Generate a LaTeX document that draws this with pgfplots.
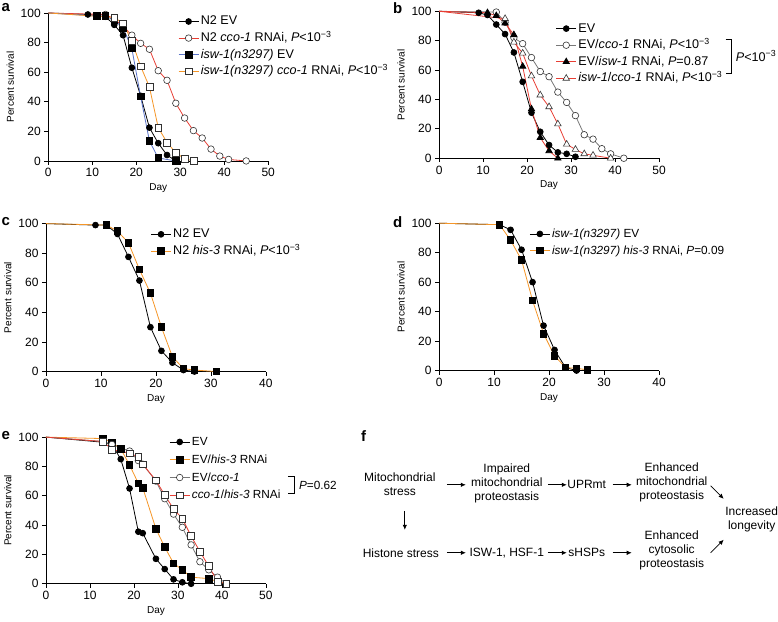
\documentclass[border=0pt]{standalone}
\usepackage{fontspec}
\setmainfont{Liberation Sans}
\usepackage{pgfplots}
\pgfplotsset{compat=1.18}
\usetikzlibrary{arrows.meta}

\definecolor{cred}{RGB}{232,62,52}
\definecolor{corange}{RGB}{245,150,40}
\definecolor{cblue}{RGB}{90,115,200}
\definecolor{cgray}{RGB}{120,120,120}
\definecolor{cedge}{RGB}{50,50,50}

\newcommand{\fs}{\fontsize{12}{14}\selectfont}
\newcommand{\fl}{\fontsize{12.6}{15}\selectfont}
\newcommand{\fm}{\fontsize{11.8}{14}\selectfont}
\newcommand{\ff}{\fontsize{12}{14}\selectfont}
\newcommand{\mexp}{10\textsuperscript{−3}}

\pgfplotsset{
  surv/.style={
    scale only axis, width=220pt, height=148pt,
    anchor=south west,
    axis lines=left, axis line style={-, line width=0.7pt},
    xmin=0, ymin=0, ymax=100,
    xtick={0,10,...,50}, ytick={0,20,...,100},
    tick align=outside, major tick length=4pt,
    tick style={black, line width=0.7pt},
    /pgf/number format/assume math mode=true,
    tick label style={font=\fs},
    label style={font=\fs},
    every axis y label/.style={at={(ticklabel cs:0.5)}, rotate=90, anchor=near ticklabel},
    every axis x label/.style={at={(ticklabel cs:0.5)}, anchor=near ticklabel},
    xlabel={Day}, ylabel={Percent survival},
    legend cell align=left,
    legend style={draw=none, fill=none, font=\fl, anchor=north west,
      inner sep=0pt, row sep=0pt,
      nodes={text height=10pt, text depth=3pt, inner sep=1.8pt}},
    legend image code/.code={\draw[mark repeat=2, mark phase=2]
      plot coordinates {(0pt,0pt) (10pt,0pt) (20pt,0pt)};},
    every axis plot/.append style={line width=0.8pt, mark repeat=1, mark phase=2},
    clip=false,
  },
  fcirc/.style={mark=*, mark size=2.9pt, mark options={solid, fill=black, draw=black}},
  ocirc/.style={mark=*, mark size=3.3pt, mark options={solid, fill=white, draw=cedge, line width=0.6pt}},
  fsq/.style={mark=square*, mark size=3.3pt, mark options={solid, fill=black, draw=black}},
  osq/.style={mark=square*, mark size=3.4pt, mark options={solid, fill=white, draw=cedge, line width=0.6pt}},
  ftri/.style={mark=triangle*, mark size=3.6pt, mark options={solid, fill=black, draw=black}},
  otri/.style={mark=triangle*, mark size=3.8pt, mark options={solid, fill=white, draw=cedge, line width=0.6pt}},
}

\begin{document}
\begin{tikzpicture}
\path (0pt,0pt) rectangle (778pt,-622pt);

% panel labels
\foreach \lab/\px/\py in {a/1.5/-3, b/393/-2, c/1.5/-217, d/393/-217, e/1.5/-431, f/361/-431}
  \node[anchor=north west, inner sep=0pt, font=\fontsize{15}{15}\selectfont\bfseries] at (\px pt,\py pt) {\lab};

% ---- a ----
\begin{axis}[surv, at={(48.3pt,-161pt)}, xmax=50,
  legend style={at={(0.59,1.0)}}]
\addplot[black, fcirc] coordinates {(0,100)(9,99)(13,97.5)(15,92)(17,85)(19,63)(21,44)(23,22.5)(25,12)(27,4)(29,0)};
\addlegendentry{N2 EV}
\addplot[cred, ocirc] coordinates {(0,100)(13,99)(15,96)(17,91)(19,85)(21,79.5)(23,75.5)(25,61)(27,54.5)(29,39)(31,29)(33,20.5)(35,15.5)(37,8)(39,3.3)(41,1)(45,0)};
\addlegendentry{N2 \textit{cco-1} RNAi, \textit{P}<\mexp}
\addplot[cblue, fsq] coordinates {(0,100)(11,98)(13,98)(15,95)(17,90)(19,76)(21,43.5)(23,13.5)(25,2)(29,0)};
\addlegendentry{\textit{isw-1(n3297)} EV}
\addplot[corange, osq] coordinates {(0,100)(15,97)(17,93)(19,81)(21,64)(23,50)(25,22.5)(27,12.5)(29,5.5)(31,1.5)(33,0)};
\addlegendentry{\textit{isw-1(n3297) cco-1} RNAi, \textit{P}<\mexp}
\end{axis}

% ---- b ----
\begin{axis}[surv, at={(439.3pt,-158.3pt)}, height=147pt, xmax=50,
  legend style={at={(0.53,0.94)}}]
\addplot[black, fcirc] coordinates {(0,100)(9,99)(11,97.5)(13,91)(15,84.5)(17,72)(19,52)(21,31)(23,18)(25,9)(27,4)(29,3)(31,1)};
\addlegendentry{EV}
\addplot[cgray, ocirc] coordinates {(0,100)(13,99.5)(15,92.5)(17,82)(19,78)(21,68.5)(23,59)(25,55.5)(27,45)(29,38)(31,29)(33,16)(35,13)(37,6.5)(39,3)(42,0)};
\addlegendentry{EV/\textit{cco-1} RNAi, \textit{P}<\mexp}
\addplot[cred, ftri] coordinates {(0,100)(11,99)(13,97)(15,92)(17,84)(19,62.5)(21,33.5)(23,14)(25,5)(27,0)};
\addlegendentry{EV/\textit{isw-1} RNAi, \textit{P}=0.87}
\addplot[cred, otri] coordinates {(0,100)(15,95)(17,79)(19,71.5)(21,56)(23,43)(25,35)(27,23.3)(29,9.5)(31,6)(33,3)(35,2)(39,0)};
\addlegendentry{\textit{isw-1}/\textit{cco-1} RNAi, \textit{P}<\mexp}
\end{axis}
\draw[line width=0.6pt] (726pt,-39pt) -- (732pt,-39pt) -- (732pt,-73pt) -- (726pt,-73pt);
\node[anchor=west, inner sep=0pt, font=\fl] at (736pt,-56pt) {\textit{P}<\mexp};

% ---- c ----
\begin{axis}[surv, at={(46pt,-371.7pt)}, xmax=40, xtick={0,10,...,40},
  legend style={at={(0.475,0.985)}}]
\addplot[black, fcirc] coordinates {(0,100)(9,99)(11,99)(13,93)(15,77.5)(17,61.5)(19,30)(21,14)(23,6)(25,1)(27,0)};
\addlegendentry{N2 EV}
\addplot[corange, fsq] coordinates {(0,100)(11,99)(13,95)(15,87)(17,69)(19,53)(21,30)(23,10)(25,2)(27,1)(31,0)};
\addlegendentry{N2 \textit{his-3} RNAi, \textit{P}<\mexp}
\end{axis}

% ---- d ----
\begin{axis}[surv, at={(439.3pt,-370.7pt)}, height=147.4pt, xmax=40, xtick={0,10,...,40},
  legend style={at={(0.41,0.985)}, font=\fm}]
\addplot[black, fcirc] coordinates {(0,100)(11,99)(13,95.5)(15,82)(17,60)(19,30.5)(21,14)(23,2)(25,0)};
\addlegendentry{\textit{isw-1(n3297)} EV}
\addplot[corange, fsq] coordinates {(0,100)(11,99)(13,88.5)(15,75)(17,47.5)(19,25)(21,10)(23,2)(25,1.5)(27,0.5)};
\addlegendentry{\textit{isw-1(n3297) his-3} RNAi, \textit{P}=0.09}
\end{axis}

% ---- e ----
\begin{axis}[surv, at={(46pt,-584pt)}, height=146.7pt, xmax=50,
  legend style={at={(0.56,1.025)}, font=\fm, row sep=1.2pt}]
\addplot[black, fcirc] coordinates {(0,100)(13,96.5)(15,95)(17,85)(19,65)(21,35.5)(22,34.5)(25,17)(27,10)(29,3)(31,1)(33,0)};
\addlegendentry{EV}
\addplot[corange, fsq] coordinates {(0,100)(13,99)(15,96.5)(17,92)(19,81)(21,68.5)(22,65.5)(25,37.5)(27,25)(29,14)(31,9.5)(33,4.5)(37,3.5)(39,1.5)(41,0)};
\addlegendentry{EV/\textit{his-3} RNAi}
\addplot[cgray, ocirc] coordinates {(0,100)(13,97)(15,95)(19,90.5)(21,84)(22,81.5)(25,70)(27,58)(29,47.5)(31,38.5)(33,26.5)(35,15)(37,9.5)(39,4.5)(41,0)};
\addlegendentry{EV/\textit{cco-1}}
\addplot[cred, osq] coordinates {(0,100)(13,97)(15,91.5)(19,89)(21,86.5)(22,81.5)(25,70.5)(27,60.5)(29,51)(31,44.5)(33,32.5)(35,22)(37,12)(39,1.5)(41,0)};
\addlegendentry{\textit{cco-1}/\textit{his-3} RNAi}
\end{axis}
\draw[line width=0.6pt] (288pt,-477pt) -- (294pt,-477pt) -- (294pt,-494pt) -- (288pt,-494pt);
\node[anchor=west, inner sep=0pt, font=\fm] at (299pt,-485.5pt) {\textit{P}=0.62};

% ---- f ----
\begin{scope}[every node/.style={font=\ff, align=center, inner sep=0pt}]
\node at (400pt,-484.5pt) {Mitochondrial\\stress};
\node at (507pt,-484pt) {Impaired\\mitochondrial\\proteostasis};
\node at (587pt,-485pt) {UPRmt};
\node at (672pt,-483pt) {Enhanced\\mitochondrial\\proteostasis};
\node at (752pt,-520pt) {Increased\\longevity};
\node at (401pt,-553pt) {Histone stress};
\node at (507pt,-553pt) {ISW-1, HSF-1};
\node at (587pt,-553pt) {sHSPs};
\node at (672pt,-551pt) {Enhanced\\cytosolic\\proteostasis};
\end{scope}
\begin{scope}[line width=0.7pt, -{Latex[length=5pt, width=4.5pt]}]
\draw (447pt,-485pt) -- (466pt,-485pt);
\draw (548pt,-485pt) -- (567pt,-485pt);
\draw (613pt,-485pt) -- (632pt,-485pt);
\draw (447pt,-553pt) -- (466pt,-553pt);
\draw (548pt,-553pt) -- (567pt,-553pt);
\draw (613pt,-553pt) -- (632pt,-553pt);
\draw (405pt,-511pt) -- (405pt,-530pt);
\draw (711pt,-486pt) -- (724pt,-499pt);
\draw (711pt,-553pt) -- (724pt,-540pt);
\end{scope}
\end{tikzpicture}
\end{document}
